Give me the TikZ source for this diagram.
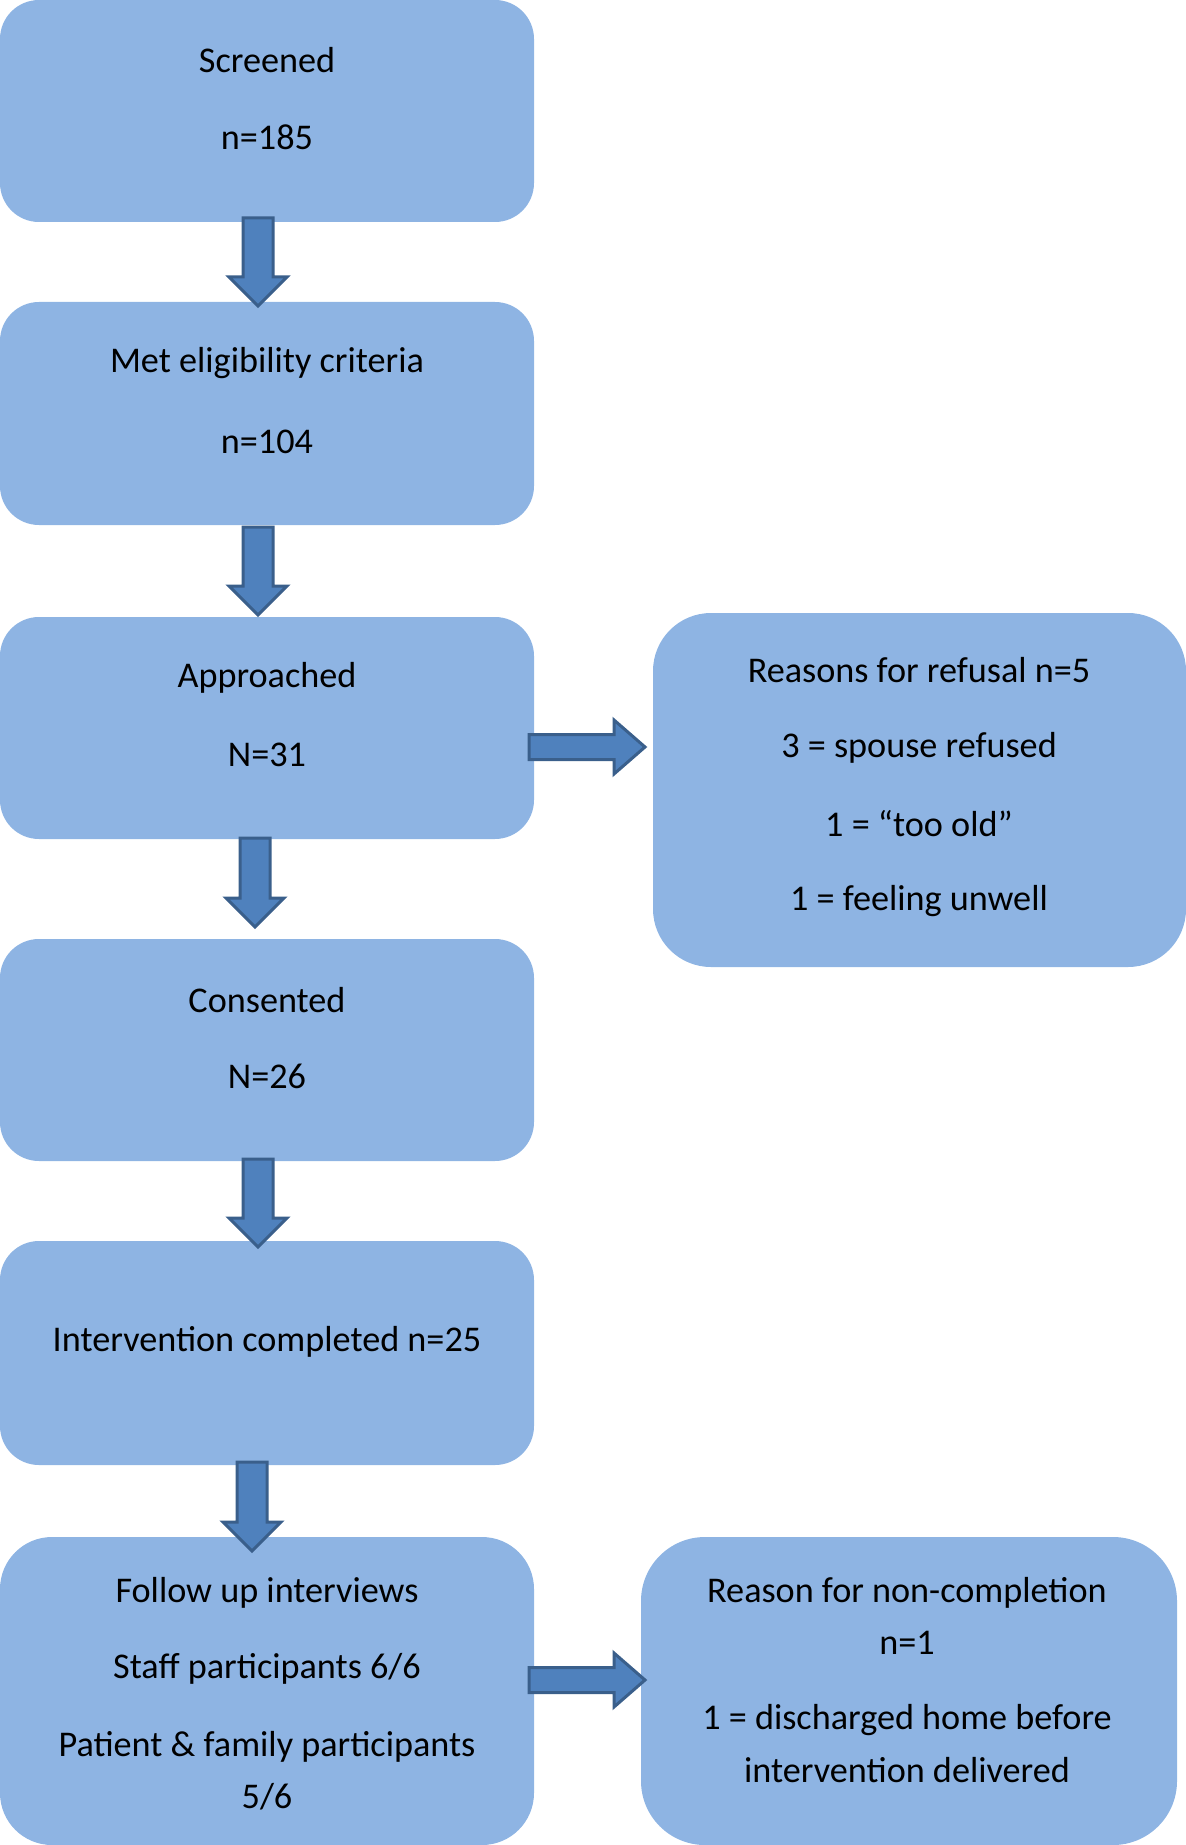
\documentclass[tikz,border=0pt]{standalone}
\usepackage{fontspec}
\setmainfont{Carlito}
\definecolor{boxfill}{HTML}{8EB4E3}
\definecolor{arrfill}{HTML}{4F81BD}
\definecolor{arrline}{HTML}{3A5F8B}
\newcommand\myDownArrow[4]{% name, x center, y top, y tip
  \draw[arrstyle] (#2-15,#3) -- (#2+15,#3) -- (#2+15,#4-29) -- (#2+29,#4-29)
    -- (#2,#4) -- (#2-29,#4-29) -- (#2-15,#4-29) -- cycle;
  \coordinate (#1) at (#2,#4);}
\newcommand\myRightArrow[4]{% name, x left, x tip, y center
  \draw[arrstyle] (#2,#4-12.5) -- (#3-31,#4-12.5) -- (#3-31,#4-27) -- (#3,#4)
    -- (#3-31,#4+27) -- (#3-31,#4+12.5) -- (#2,#4+12.5) -- cycle;
  \coordinate (#1) at (#3,#4);}
\tikzset{
  box/.style={draw=none, fill=boxfill, rounded corners=#1},
  box/.default=19.5pt,
  arrstyle/.style={fill=arrfill, draw=arrline, line width=1.5pt, line join=miter},
  txt/.style={font=\fontsize{18.1}{21}\selectfont, text=black, inner sep=0pt, anchor=center, yshift=-1.2pt}
}
\begin{document}
\begin{tikzpicture}[x=0.5pt,y=-0.5pt]
\useasboundingbox (0,0) rectangle (1186,1845);
% boxes
\fill[box] (0,0) rectangle (534,222); \coordinate (b1) at (267,111);
\fill[box] (0,302) rectangle (534,525); \coordinate (b2) at (267,413);
\fill[box] (0,617) rectangle (534,839); \coordinate (b3) at (267,728);
\fill[box] (0,939) rectangle (534,1161); \coordinate (b4) at (267,1050);
\fill[box] (0,1241) rectangle (534,1465); \coordinate (b5) at (267,1353);
\fill[box=26pt] (0,1537) rectangle (534,1845); \coordinate (b6) at (267,1691);
\fill[box=29pt] (653,613) rectangle (1186,967); \coordinate (r1) at (919,790);
\fill[box=32pt] (641,1537) rectangle (1177,1845); \coordinate (r2) at (909,1691);
% arrows
\myDownArrow{a1}{258}{218}{306}
\myDownArrow{a2}{258}{527}{615}
\myDownArrow{a3}{255}{838}{927}
\myDownArrow{a4}{258}{1159}{1247}
\myDownArrow{a5}{252}{1462}{1551}
\myRightArrow{h1}{529}{645}{747}
\myRightArrow{h2}{529}{645}{1680}
% texts
\node[txt] (t11) at (267,58) {Screened};
\node[txt] (t12) at (267,135) {n=185};
\node[txt] (t21) at (267,361) {Met eligibility criteria};
\node[txt] (t22) at (267,439) {n=104};
\node[txt] (t31) at (267,675) {Approached};
\node[txt] (t32) at (267,752) {N=31};
\node[txt] (t41) at (267,998) {Consented};
\node[txt] (t42) at (267,1074) {N=26};
\node[txt] (t51) at (267,1339) {Intervention completed n=25};
\node[txt] (t61) at (267,1590) {Follow up interviews};
\node[txt] (t62) at (267,1666) {Staff participants 6/6};
\node[txt] (t63) at (267,1744) {Patient \& family participants};
\node[txt] (t64) at (267,1794) {5/6};
\node[txt] (u11) at (919,668) {Reasons for refusal n=5};
\node[txt] (u12) at (919,745) {3 = spouse refused};
\node[txt] (u13) at (919,821) {1 = “too old”};
\node[txt] (u14) at (919,899) {1 = feeling unwell};
\node[txt] (u21) at (907,1590) {Reason for non-completion};
\node[txt] (u22) at (907,1640) {n=1};
\node[txt] (u23) at (907,1718) {1 = discharged home before};
\node[txt] (u24) at (907,1768) {intervention delivered};
\end{tikzpicture}
\end{document}
